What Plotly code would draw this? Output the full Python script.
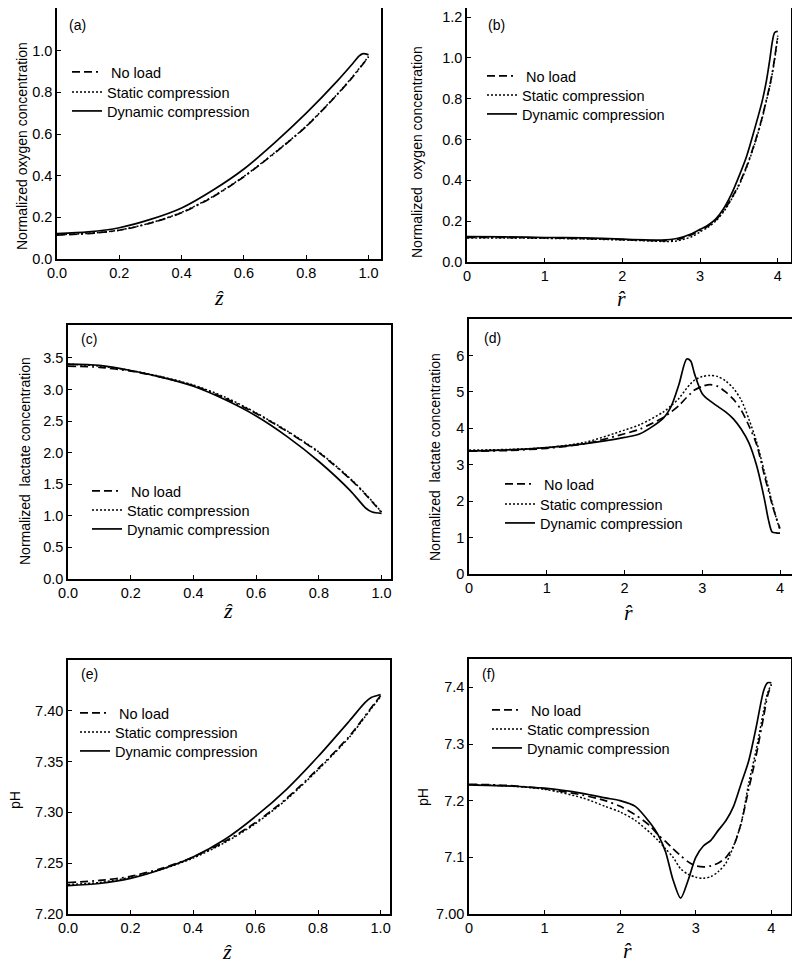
import plotly.graph_objects as go

# The page body has an 8px margin, so the figure is drawn 8px smaller and all
# page-pixel positions below are shifted by OFF.
PAGE_W, PAGE_H = 800, 964
OFF = 8
W, H = PAGE_W - OFF, PAGE_H - OFF

# ---------------- data ----------------
# (a) oxygen vs z
a_x_nl = [0, 0.1, 0.2, 0.3, 0.4, 0.5, 0.6, 0.7, 0.8, 0.9, 0.95, 1.0]
a_nl = [0.115, 0.122, 0.138, 0.172, 0.222, 0.298, 0.395, 0.51, 0.636, 0.79, 0.875, 0.97]
a_st = [0.117, 0.123, 0.139, 0.173, 0.224, 0.300, 0.397, 0.512, 0.638, 0.792, 0.878, 0.972]
a_x_dy = [0, 0.1, 0.2, 0.3, 0.4, 0.5, 0.6, 0.7, 0.8, 0.9, 0.95, 0.97, 0.98, 0.99, 1.0]
a_dy = [0.122, 0.13, 0.15, 0.19, 0.245, 0.33, 0.432, 0.56, 0.70, 0.855, 0.94, 0.975, 0.985, 0.985, 0.98]

# (b) oxygen vs r
b_x = [0, 0.5, 1, 1.5, 2, 2.3, 2.5, 2.7, 2.9, 3.0, 3.1, 3.2, 3.3, 3.4, 3.5, 3.6, 3.7, 3.8, 3.85, 3.9, 3.93, 3.96, 4.0]
b_nl = [0.12, 0.12, 0.118, 0.115, 0.11, 0.106, 0.104, 0.11, 0.135, 0.155, 0.175, 0.205, 0.25, 0.31, 0.38, 0.47, 0.58, 0.71, 0.79, 0.87, 0.93, 1.0, 1.11]
b_st = [0.118, 0.118, 0.116, 0.113, 0.108, 0.104, 0.101, 0.103, 0.125, 0.148, 0.17, 0.2, 0.245, 0.305, 0.375, 0.465, 0.575, 0.705, 0.785, 0.865, 0.925, 0.995, 1.105]
b_dy = [0.125, 0.123, 0.12, 0.118, 0.112, 0.108, 0.107, 0.115, 0.14, 0.16, 0.18, 0.21, 0.26, 0.33, 0.42, 0.52, 0.65, 0.79, 0.88, 1.0, 1.08, 1.125, 1.13]

# (c) lactate vs z
c_x = [0, 0.1, 0.2, 0.3, 0.4, 0.5, 0.6, 0.7, 0.8, 0.9, 0.95, 1.0]
c_nl = [3.37, 3.35, 3.29, 3.19, 3.06, 2.86, 2.62, 2.33, 2.0, 1.58, 1.33, 1.05]
c_st = [3.40, 3.37, 3.30, 3.20, 3.07, 2.88, 2.63, 2.34, 2.01, 1.59, 1.34, 1.06]
c_x_dy = [0, 0.1, 0.2, 0.3, 0.4, 0.5, 0.6, 0.7, 0.8, 0.9, 0.95, 0.97, 1.0]
c_dy = [3.40, 3.38, 3.30, 3.19, 3.05, 2.84, 2.58, 2.25, 1.86, 1.40, 1.12, 1.06, 1.04]

# (d) lactate vs r
d_x = [0, 0.5, 1, 1.5, 2, 2.2, 2.5, 2.6, 2.7, 2.8, 2.85, 2.9, 3.0, 3.1, 3.2, 3.3, 3.4, 3.5, 3.6, 3.7, 3.8, 3.85, 3.9, 3.95, 4.0]
d_nl = [3.37, 3.39, 3.45, 3.58, 3.85, 3.98, 4.30, 4.45, 4.62, 4.85, 4.95, 5.05, 5.15, 5.2, 5.15, 5.0, 4.8, 4.5, 4.07, 3.55, 2.7, 2.3, 1.9, 1.55, 1.25]
d_st = [3.40, 3.42, 3.47, 3.62, 3.95, 4.10, 4.45, 4.62, 4.82, 5.1, 5.22, 5.32, 5.42, 5.45, 5.42, 5.3, 5.1, 4.78, 4.25, 3.62, 2.8, 2.38, 1.95, 1.55, 1.2]
d_dy = [3.38, 3.41, 3.47, 3.58, 3.75, 3.85, 4.28, 4.6, 5.2, 5.9, 5.85, 5.5, 4.95, 4.75, 4.6, 4.45, 4.26, 3.98, 3.6, 2.97, 2.05, 1.5, 1.15, 1.13, 1.12]

# (e) pH vs z
e_x = [0, 0.1, 0.2, 0.3, 0.4, 0.5, 0.6, 0.7, 0.8, 0.9, 0.95, 1.0]
e_nl = [7.231, 7.233, 7.237, 7.245, 7.256, 7.271, 7.290, 7.314, 7.343, 7.375, 7.395, 7.415]
e_st = [7.229, 7.231, 7.236, 7.244, 7.255, 7.270, 7.289, 7.313, 7.342, 7.374, 7.394, 7.414]
e_x_dy = [0, 0.1, 0.2, 0.3, 0.4, 0.5, 0.6, 0.7, 0.8, 0.9, 0.95, 0.97, 1.0]
e_dy = [7.228, 7.230, 7.235, 7.244, 7.256, 7.273, 7.296, 7.323, 7.355, 7.390, 7.408, 7.413, 7.416]

# (f) pH vs r
f_x = [0, 0.5, 1, 1.5, 1.8, 2.0, 2.2, 2.4, 2.5, 2.6, 2.7, 2.8, 2.9, 3.0, 3.1, 3.2, 3.3, 3.4, 3.5, 3.6, 3.7, 3.8, 3.9, 3.95, 4.0]
f_nl = [7.229, 7.227, 7.221, 7.21, 7.2, 7.19, 7.175, 7.155, 7.14, 7.128, 7.115, 7.103, 7.092, 7.085, 7.083, 7.085, 7.09, 7.10, 7.12, 7.16, 7.22, 7.28, 7.35, 7.385, 7.405]
f_st = [7.228, 7.226, 7.22, 7.205, 7.19, 7.18, 7.165, 7.143, 7.13, 7.115, 7.1, 7.08, 7.07, 7.065, 7.063, 7.066, 7.075, 7.09, 7.12, 7.16, 7.23, 7.29, 7.36, 7.39, 7.405]
f_dy = [7.228, 7.226, 7.222, 7.213, 7.205, 7.2, 7.19, 7.16, 7.14, 7.11, 7.06, 7.028, 7.06, 7.10, 7.12, 7.13, 7.148, 7.165, 7.19, 7.23, 7.27, 7.33, 7.395, 7.408, 7.408]

series_names = ["\u00a0No load", "Static compression", "Dynamic compression"]

z_ticks = [0, 0.2, 0.4, 0.6, 0.8, 1.0]
z_tick_text = ["0.0", "0.2", "0.4", "0.6", "0.8", "1.0"]
r_ticks = [0, 1, 2, 3, 4]
r_tick_text = ["0", "1", "2", "3", "4"]

# ---------------- layout helpers (page pixel -> paper fraction) ----------------
def clamp(v):
    return min(1.0, max(0.0, v))

def fx(px):
    return (px - OFF) / W

def fy(py):
    return 1 - (py - OFF) / H

FONT = "Liberation Sans, Arial, sans-serif"
styles = [
    dict(color="black", width=1.7, dash="8px,4px,8px,4px,2px,4px"),
    dict(color="black", width=1.5, dash="2px,2px"),
    dict(color="black", width=1.7),
]

panels = [
    dict(xnl=a_x_nl, xst=a_x_nl, xdy=a_x_dy, nl=a_nl, st=a_st, dy=a_dy,
         box=(57, 8, 381, 259), xr=[0, 1.04], yr=[0, 1.205],
         xt=z_ticks, xtt=z_tick_text,
         yt=[0, 0.2, 0.4, 0.6, 0.8, 1.0], ytt=["0.0", "0.2", "0.4", "0.6", "0.8", "1.0"],
         ylab="Normalized oxygen concentration", ylab_pos=(22, 146),
         xlab="ẑ", xlab_pos=(219, 297), tag="(a)", tag_pos=(67, 25),
         leg_text_x=108, rows=(71, 91, 110)),
    dict(xnl=b_x, xst=b_x, xdy=b_x, nl=b_nl, st=b_st, dy=b_dy,
         box=(467, 8, 791, 262), xr=[0, 4.17], yr=[0, 1.245],
         xt=r_ticks, xtt=r_tick_text,
         yt=[0, 0.2, 0.4, 0.6, 0.8, 1.0, 1.2], ytt=["0.0", "0.2", "0.4", "0.6", "0.8", "1.0", "1.2"],
         ylab="Normalized\u00a0 oxygen concentration", ylab_pos=(417, 152),
         xlab="r̂", xlab_pos=(621, 298), tag="(b)", tag_pos=(486, 25),
         leg_text_x=523, rows=(75, 94, 113)),
    dict(xnl=c_x, xst=c_x, xdy=c_x_dy, nl=c_nl, st=c_st, dy=c_dy,
         box=(68, 325, 391, 579), xr=[0, 1.03], yr=[0, 4.02],
         xt=z_ticks, xtt=z_tick_text,
         yt=[0, 0.5, 1, 1.5, 2, 2.5, 3, 3.5], ytt=["0.0", "0.5", "1.0", "1.5", "2.0", "2.5", "3.0", "3.5"],
         ylab="Normalized\u00a0 lactate concentration", ylab_pos=(25, 461),
         xlab="ẑ", xlab_pos=(228, 610), tag="(c)", tag_pos=(79, 339),
         leg_text_x=128, rows=(490, 509, 528)),
    dict(xnl=d_x, xst=d_x, xdy=d_x, nl=d_nl, st=d_st, dy=d_dy,
         box=(469, 319, 794, 574), xr=[0, 4.18], yr=[0, 7.0],
         xt=r_ticks, xtt=r_tick_text,
         yt=[0, 1, 2, 3, 4, 5, 6], ytt=["0", "1", "2", "3", "4", "5", "6"],
         ylab="Normalized\u00a0 lactate concentration", ylab_pos=(435, 457),
         xlab="r̂", xlab_pos=(628, 612), tag="(d)", tag_pos=(482, 338),
         leg_text_x=541, rows=(483, 503, 522)),
    dict(xnl=e_x, xst=e_x, xdy=e_x_dy, nl=e_nl, st=e_st, dy=e_dy,
         box=(68, 660, 390, 914), xr=[0, 1.03], yr=[7.20, 7.45],
         xt=z_ticks, xtt=z_tick_text,
         yt=[7.20, 7.25, 7.30, 7.35, 7.40], ytt=["7.20", "7.25", "7.30", "7.35", "7.40"],
         ylab="pH", ylab_pos=(15, 800),
         xlab="ẑ", xlab_pos=(227, 951), tag="(e)", tag_pos=(79, 674),
         leg_text_x=116, rows=(712, 731, 750)),
    dict(xnl=f_x, xst=f_x, xdy=f_x, nl=f_nl, st=f_st, dy=f_dy,
         box=(469, 659, 791, 914), xr=[0, 4.26], yr=[7.00, 7.45],
         xt=r_ticks, xtt=r_tick_text,
         yt=[7.0, 7.1, 7.2, 7.3, 7.4], ytt=["7.00", "7.1", "7.2", "7.3", "7.4"],
         ylab="pH", ylab_pos=(423, 797),
         xlab="r̂", xlab_pos=(627, 950), tag="(f)", tag_pos=(480, 674),
         leg_text_x=528, rows=(709, 728, 747)),
]

fig = go.Figure()
layout = dict(width=W, height=H, margin=dict(l=0, r=0, t=0, b=0, pad=0),
              paper_bgcolor="white", plot_bgcolor="white",
              font=dict(family=FONT, size=14, color="black"),
              showlegend=True, annotations=[])

LEG_TEXT_OFFSET = 41  # distance from legend box left edge to legend text start

leg_idx = 0
for i, p in enumerate(panels):
    n = i + 1
    xa = "x" if n == 1 else f"x{n}"
    ya = "y" if n == 1 else f"y{n}"
    xs = [p["xnl"], p["xst"], p["xdy"]]
    ys = [p["nl"], p["st"], p["dy"]]
    for k in range(3):
        leg_idx += 1
        lg = "legend" if leg_idx == 1 else f"legend{leg_idx}"
        fig.add_trace(go.Scatter(x=xs[k], y=ys[k], mode="lines", name=series_names[k],
                                 line=dict(shape="spline", smoothing=0.8, **styles[k]),
                                 xaxis=xa, yaxis=ya, legend=lg, hoverinfo="skip"))
        layout[lg] = dict(x=fx(p["leg_text_x"] - LEG_TEXT_OFFSET), y=fy(p["rows"][k] - 15),
                          xanchor="left", yanchor="top",
                          bgcolor="rgba(0,0,0,0)", borderwidth=0, tracegroupgap=0,
                          itemwidth=30, font=dict(family=FONT, size=14.5, color="black"),
                          itemclick=False, itemdoubleclick=False)
    x0, y0, x1, y1 = p["box"]
    axcommon = dict(showgrid=False, zeroline=False, showline=True, linecolor="black",
                    linewidth=1.5, mirror=True, ticks="inside", ticklen=4, tickwidth=1.3,
                    tickcolor="black", automargin=False,
                    tickfont=dict(family=FONT, size=14.5, color="black"))
    layout["xaxis" if n == 1 else f"xaxis{n}"] = dict(
        domain=[clamp(fx(x0)), clamp(fx(x1))], range=p["xr"], anchor=ya,
        tickvals=p["xt"], ticktext=p["xtt"], **axcommon)
    layout["yaxis" if n == 1 else f"yaxis{n}"] = dict(
        domain=[clamp(fy(y1)), clamp(fy(y0))], range=p["yr"], anchor=xa,
        tickvals=p["yt"], ticktext=p["ytt"], **axcommon)
    layout["annotations"].append(dict(
        text=p["ylab"], x=fx(p["ylab_pos"][0]), y=fy(p["ylab_pos"][1]), xref="paper", yref="paper",
        showarrow=False, textangle=-90, xanchor="center", yanchor="middle",
        font=dict(family=FONT, size=14, color="black")))
    layout["annotations"].append(dict(
        text=p["xlab"], x=fx(p["xlab_pos"][0]), y=fy(p["xlab_pos"][1]), xref="paper", yref="paper",
        showarrow=False, xanchor="center", yanchor="middle",
        font=dict(family="Liberation Serif, Times New Roman, serif", size=22, color="black", style="italic")))
    layout["annotations"].append(dict(
        text=p["tag"], x=fx(p["tag_pos"][0]), y=fy(p["tag_pos"][1]), xref="paper", yref="paper",
        showarrow=False, xanchor="left", yanchor="middle",
        font=dict(family=FONT, size=14, color="black")))

fig.update_layout(**layout)
fig.write_html("out.html")
